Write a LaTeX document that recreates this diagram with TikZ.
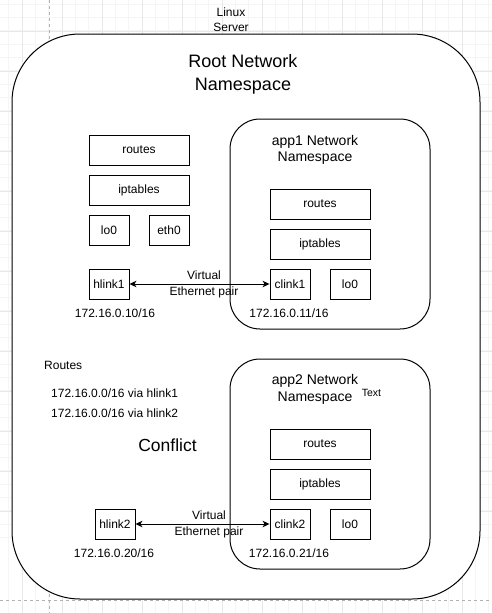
\documentclass[tikz,border=0pt]{standalone}
\usepackage{fontspec}
\setmainfont{Liberation Sans}
\usetikzlibrary{arrows.meta}
\tikzset{
  box/.style={draw=black, line width=0.9pt, fill=white, inner sep=0pt,
    minimum width=#1, minimum height=30pt, font=\fontsize{12}{14}\selectfont},
  box/.default=40pt,
  container/.style={draw=black, line width=1pt, fill=white, rounded corners=#1},
  lbl/.style={inner sep=0pt, align=center, font=\fontsize{12}{16}\selectfont},
  veth/.style={line width=0.9pt, {Stealth[length=7pt,width=6.5pt,inset=2pt]}-{Stealth[length=7pt,width=6.5pt,inset=2pt]}},
  gridminor/.style={draw=black!4, line width=0.5pt},
  gridmajor/.style={draw=black!9, line width=0.6pt},
  pageline/.style={draw=black!30, dashed, line width=0.5pt}
}
\begin{document}
\begin{tikzpicture}[x=1pt,y=-1pt]
\useasboundingbox (0,0) rectangle (492,613);
\fill[white] (0,0) rectangle (492,613);
% background grid
\foreach \i in {0,...,40} {
  \draw[gridminor] ({-4.67+13.333*\i},0) -- ({-4.67+13.333*\i},613);
  \draw[gridminor] (0,{4+13.333*\i}) -- (492,{4+13.333*\i});
}
\foreach \i in {0,...,13} {
  \draw[gridmajor] ({22+40*\i},0) -- ({22+40*\i},613);
  \draw[gridmajor] (0,{-9+40*\i}) -- (492,{-9+40*\i});
}
\draw[pageline] (49,0) -- (49,613);
\draw[pageline] (0,600) -- (492,600);

% Linux server
\node[lbl, font=\fontsize{12}{15}\selectfont] (server) at (231,19.5) {Linux\\Server};
\node[container=68pt, minimum width=468pt, minimum height=565pt, inner sep=0pt] (root) at (246,316.5) {};
\node[lbl, font=\fontsize{18}{23}\selectfont] (roottitle) at (243,74.5) {Root Network\\Namespace};

% root namespace boxes
\node[box=100pt] (rroutes) at (139,150) {routes};
\node[box=100pt] (riptables) at (139,190) {iptables};
\node[box] (rlo) at (109,230) {lo0};
\node[box] (reth) at (169,230) {eth0};
\node[box] (hlink1) at (109,284) {hlink1};
\node[lbl] (ip10) at (115,313) {172.16.0.10/16};

% app1
\node[container=30pt, minimum width=200pt, minimum height=210pt, inner sep=0pt] (app1) at (330,224) {};
\node[lbl, font=\fontsize{14}{16.5}\selectfont] (app1title) at (315,150) {app1 Network\\Namespace};
\node[box=100pt] (a1routes) at (320,204) {routes};
\node[box=100pt] (a1iptables) at (320,244) {iptables};
\node[box] (clink1) at (290,284) {clink1};
\node[box] (a1lo) at (350,284) {lo0};
\node[lbl] (ip11) at (289,313) {172.16.0.11/16};

\draw[veth] (hlink1.east) -- (clink1.west);
\node[lbl] (veth1) at (204,284) {Virtual\\Ethernet pair};

% routes text
\node[anchor=west, lbl] (routes) at (44,365) {Routes};
\node[anchor=west, lbl] (route1) at (51,393) {172.16.0.0/16 via hlink1};
\node[anchor=west, lbl] (route2) at (51,413) {172.16.0.0/16 via hlink2};
\node[lbl, font=\fontsize{17.5}{20}\selectfont] (conflict) at (167.5,445) {Conflict};

% app2
\node[container=30pt, minimum width=200pt, minimum height=210pt, inner sep=0pt] (app2) at (330,464) {};
\node[lbl, font=\fontsize{14}{16.5}\selectfont] (app2title) at (315,389.5) {app2 Network\\Namespace};
\node[lbl, font=\fontsize{10.5}{12}\selectfont] (txt) at (371.5,393) {Text};
\node[box=100pt] (a2routes) at (320,444) {routes};
\node[box=100pt] (a2iptables) at (320,484) {iptables};
\node[box] (clink2) at (290,524) {clink2};
\node[box] (a2lo) at (350,524) {lo0};
\node[lbl] (ip21) at (289,553) {172.16.0.21/16};

\node[box] (hlink2) at (115,524) {hlink2};
\node[lbl] (ip20) at (114,553) {172.16.0.20/16};

\draw[veth] (hlink2.east) -- (clink2.west);
\node[lbl] (veth2) at (209,524) {Virtual\\Ethernet pair};
\end{tikzpicture}
\end{document}
